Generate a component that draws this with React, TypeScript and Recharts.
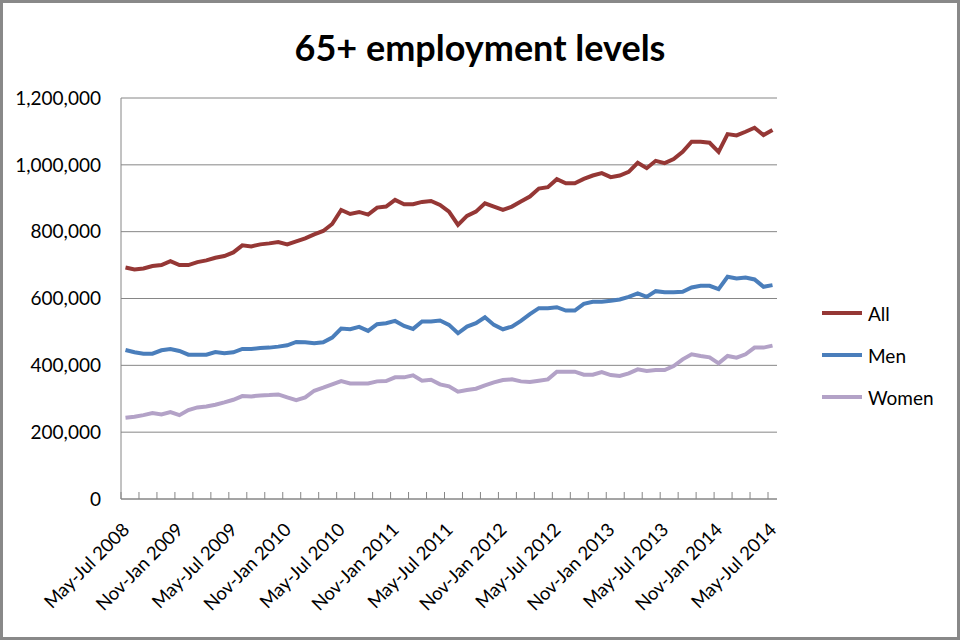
import React from 'react';
import { LineChart, Line, XAxis, YAxis, CartesianGrid, Legend } from 'recharts';

// rolling quarters, one per month
const CATEGORIES = [
  'May-Jul 2008', 'Jun-Aug 2008', 'Jul-Sep 2008', 'Aug-Oct 2008', 'Sep-Nov 2008', 'Oct-Dec 2008',
  'Nov-Jan 2009', 'Dec-Feb 2009', 'Jan-Mar 2009', 'Feb-Apr 2009', 'Mar-May 2009', 'Apr-Jun 2009',
  'May-Jul 2009', 'Jun-Aug 2009', 'Jul-Sep 2009', 'Aug-Oct 2009', 'Sep-Nov 2009', 'Oct-Dec 2009',
  'Nov-Jan 2010', 'Dec-Feb 2010', 'Jan-Mar 2010', 'Feb-Apr 2010', 'Mar-May 2010', 'Apr-Jun 2010',
  'May-Jul 2010', 'Jun-Aug 2010', 'Jul-Sep 2010', 'Aug-Oct 2010', 'Sep-Nov 2010', 'Oct-Dec 2010',
  'Nov-Jan 2011', 'Dec-Feb 2011', 'Jan-Mar 2011', 'Feb-Apr 2011', 'Mar-May 2011', 'Apr-Jun 2011',
  'May-Jul 2011', 'Jun-Aug 2011', 'Jul-Sep 2011', 'Aug-Oct 2011', 'Sep-Nov 2011', 'Oct-Dec 2011',
  'Nov-Jan 2012', 'Dec-Feb 2012', 'Jan-Mar 2012', 'Feb-Apr 2012', 'Mar-May 2012', 'Apr-Jun 2012',
  'May-Jul 2012', 'Jun-Aug 2012', 'Jul-Sep 2012', 'Aug-Oct 2012', 'Sep-Nov 2012', 'Oct-Dec 2012',
  'Nov-Jan 2013', 'Dec-Feb 2013', 'Jan-Mar 2013', 'Feb-Apr 2013', 'Mar-May 2013', 'Apr-Jun 2013',
  'May-Jul 2013', 'Jun-Aug 2013', 'Jul-Sep 2013', 'Aug-Oct 2013', 'Sep-Nov 2013', 'Oct-Dec 2013',
  'Nov-Jan 2014', 'Dec-Feb 2014', 'Jan-Mar 2014', 'Feb-Apr 2014', 'Mar-May 2014', 'Apr-Jun 2014',
  'May-Jul 2014',
];

const ALL = [
  693000, 687000, 690000, 697000, 700000, 712000, 700000, 700000, 709000, 714000,
  722000, 727000, 738000, 759000, 756000, 762000, 765000, 769000, 762000, 771000,
  780000, 792000, 802000, 823000, 865000, 853000, 859000, 851000, 872000, 875000,
  895000, 882000, 882000, 889000, 892000, 880000, 860000, 820000, 847000, 860000,
  885000, 875000, 865000, 875000, 890000, 905000, 929000, 933000, 957000, 945000,
  945000, 958000, 968000, 975000, 963000, 968000, 979000, 1006000, 990000, 1012000,
  1005000, 1017000, 1039000, 1069000, 1069000, 1066000, 1039000, 1092000, 1088000, 1099000,
  1111000, 1089000, 1104000,
];

const MEN = [
  446000, 439000, 435000, 435000, 445000, 449000, 443000, 432000, 432000, 432000,
  440000, 436000, 439000, 449000, 449000, 452000, 453000, 456000, 460000, 470000,
  469000, 466000, 469000, 483000, 510000, 508000, 515000, 503000, 523000, 526000,
  533000, 518000, 509000, 531000, 531000, 534000, 521000, 496000, 516000, 526000,
  544000, 521000, 508000, 516000, 533000, 553000, 571000, 571000, 574000, 564000,
  564000, 584000, 590000, 590000, 593000, 597000, 605000, 615000, 605000, 622000,
  619000, 619000, 620000, 633000, 638000, 638000, 628000, 665000, 660000, 663000,
  657000, 635000, 640000,
];

const WOMEN = [
  243000, 246000, 251000, 257000, 253000, 260000, 251000, 266000, 274000, 277000,
  282000, 289000, 297000, 308000, 307000, 310000, 311000, 313000, 304000, 296000,
  304000, 324000, 333000, 343000, 353000, 346000, 346000, 346000, 352000, 353000,
  364000, 364000, 370000, 354000, 357000, 343000, 337000, 321000, 326000, 330000,
  340000, 349000, 356000, 358000, 352000, 350000, 354000, 358000, 381000, 381000,
  381000, 372000, 372000, 380000, 371000, 368000, 376000, 388000, 383000, 386000,
  386000, 398000, 418000, 433000, 428000, 424000, 406000, 428000, 423000, 433000,
  453000, 453000, 459000,
];

const Y_TICKS = [0, 200000, 400000, 600000, 800000, 1000000, 1200000];

const chartData = CATEGORIES.map((period, i) => ({
  period,
  all: ALL[i],
  men: MEN[i],
  women: WOMEN[i],
}));

const FONT = 'Lato, "Open Sans", sans-serif';
const AXIS_GRAY = '#868686';
const PLOT_LEFT = 121;
const PLOT_RIGHT = 777;
const PLOT_TOP = 98;
const PLOT_BOTTOM = 499;
const BAND = (PLOT_RIGHT - PLOT_LEFT) / CATEGORIES.length;

// Excel style: tick marks between every 2nd category, a label every 6th
const XTick = (props: any) => {
  const { x, y, payload } = props;
  const i = CATEGORIES.indexOf(payload.value);
  const tx = x + 5;
  const ty = y + 32;
  return (
    <g>
      {i % 2 === 0 && (
        <line x1={x - BAND / 2} x2={x - BAND / 2} y1={y} y2={y - 7} stroke={AXIS_GRAY} strokeWidth={1} />
      )}
      {i % 6 === 0 && (
        <text
          x={tx}
          y={ty}
          textAnchor="end"
          transform={`rotate(-45 ${tx} ${ty})`}
          fontSize={18.5}
          fontFamily={FONT}
          fill="#000"
        >
          {payload.value}
        </text>
      )}
    </g>
  );
};

const LegendContent = (props: any) => {
  const { payload } = props;
  return (
    <div>
      {(payload || []).map((entry: any) => (
        <div key={entry.value} style={{ display: 'flex', alignItems: 'center', height: 42 }}>
          <svg width={40} height={6}>
            <line x1={0} x2={40} y1={3} y2={3} stroke={entry.color} strokeWidth={4} />
          </svg>
          <span style={{ marginLeft: 6, fontSize: 19, fontFamily: FONT, color: '#000' }}>{entry.value}</span>
        </div>
      ))}
    </div>
  );
};

export default function App() {
  return (
    <div style={{ position: 'absolute', left: 0, top: 0, width: 960, height: 640, background: '#fff' }}>
      <div
        style={{
          position: 'absolute',
          left: 0,
          top: 25,
          width: 960,
          textAlign: 'center',
          fontFamily: FONT,
          fontWeight: 700,
          fontSize: 36,
          lineHeight: '44px',
          color: '#000',
        }}
      >
        65+ employment levels
      </div>
      <LineChart
        width={960}
        height={640}
        data={chartData}
        margin={{ top: PLOT_TOP, right: 960 - PLOT_RIGHT, bottom: 0, left: 0 }}
      >
        <CartesianGrid vertical={false} stroke={AXIS_GRAY} strokeWidth={1} />
        <XAxis
          dataKey="period"
          interval={0}
          height={640 - PLOT_BOTTOM}
          padding={{ left: BAND / 2, right: BAND / 2 }}
          axisLine={{ stroke: AXIS_GRAY }}
          tickLine={false}
          tickSize={0}
          tickMargin={0}
          tick={<XTick />}
        />
        <YAxis
          width={PLOT_LEFT}
          domain={[0, 1200000]}
          ticks={Y_TICKS}
          interval={0}
          axisLine={{ stroke: AXIS_GRAY }}
          tickLine={false}
          tickSize={0}
          tickMargin={20}
          tick={{ fontSize: 19, fontFamily: FONT, fill: '#000' }}
          tickFormatter={(v: number) => v.toLocaleString('en-US')}
        />
        <Legend
          layout="vertical"
          align="center"
          verticalAlign="middle"
          content={<LegendContent />}
          wrapperStyle={{ left: 822, top: 292, width: 'auto' }}
        />
        <Line type="linear" dataKey="all" name="All" stroke="#953735" strokeWidth={4} dot={false} isAnimationActive={false} />
        <Line type="linear" dataKey="men" name="Men" stroke="#4a7ebb" strokeWidth={4} dot={false} isAnimationActive={false} />
        <Line type="linear" dataKey="women" name="Women" stroke="#b3a2c7" strokeWidth={4} dot={false} isAnimationActive={false} />
      </LineChart>
      <div
        style={{
          position: 'absolute',
          left: 0,
          top: 0,
          width: 960,
          height: 640,
          boxSizing: 'border-box',
          border: '3px solid #898989',
          pointerEvents: 'none',
        }}
      />
    </div>
  );
}
